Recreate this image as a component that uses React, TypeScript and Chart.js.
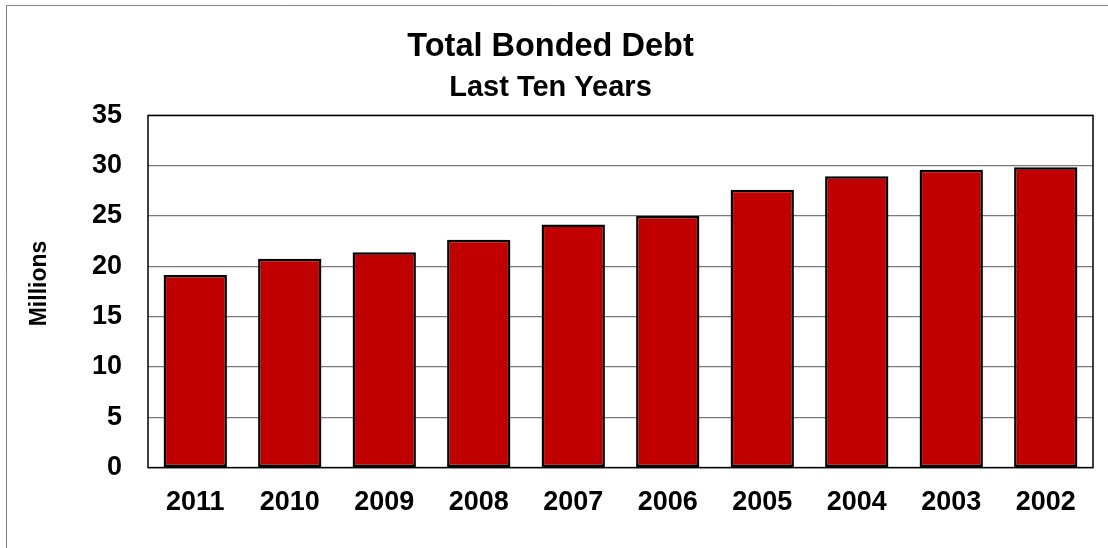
import React, { useEffect, useRef } from "react";
import { Chart, registerables } from "chart.js";

Chart.register(...registerables);

const categories = ["2011", "2010", "2009", "2008", "2007", "2006", "2005", "2004", "2003", "2002"];
const debtMillions = [19.15, 20.75, 21.4, 22.65, 24.15, 25.0, 27.6, 28.95, 29.6, 29.85];
const titleText = "Total Bonded Debt";
const subtitleText = "Last Ten Years";
const yAxisTitle = "Millions";

const FONT = "'Liberation Sans', Arial, Helvetica, sans-serif";

const framePlugin = {
  id: "framePlugin",
  beforeDraw(chart: any) {
    const ctx = chart.ctx;
    ctx.save();
    ctx.fillStyle = "#ffffff";
    ctx.fillRect(0, 0, chart.width, chart.height);
    ctx.strokeStyle = "#7f7f7f";
    ctx.lineWidth = 1;
    ctx.beginPath();
    ctx.moveTo(6.5, chart.height + 2);
    ctx.lineTo(6.5, 5.5);
    ctx.lineTo(chart.width + 2, 5.5);
    ctx.stroke();
    ctx.restore();
  },
  beforeDatasetsDraw(chart: any) {
    const { ctx, chartArea } = chart;
    ctx.save();
    ctx.strokeStyle = "#000000";
    ctx.lineWidth = 1.5;
    ctx.strokeRect(chartArea.left, chartArea.top, chartArea.right - chartArea.left, chartArea.bottom - chartArea.top);
    ctx.restore();
  },
  afterDraw(chart: any) {
    const { ctx, chartArea } = chart;
    ctx.save();
    ctx.translate(40, (chartArea.top + chartArea.bottom) / 2 - 8);
    ctx.rotate(-Math.PI / 2);
    ctx.fillStyle = "#000000";
    ctx.font = `bold 23px ${FONT}`;
    ctx.textAlign = "center";
    ctx.textBaseline = "middle";
    ctx.fillText(yAxisTitle, 0, 0);
    ctx.restore();
  },
};

export default function App() {
  const canvasRef = useRef<HTMLCanvasElement | null>(null);

  useEffect(() => {
    if (!canvasRef.current) return;
    const chart = new Chart(canvasRef.current, {
      type: "bar",
      data: {
        labels: categories,
        datasets: [
          {
            label: "Total Bonded Debt",
            data: debtMillions,
            backgroundColor: "#C00000",
            borderColor: "#000000",
            borderWidth: 2.5,
            borderSkipped: false,
            categoryPercentage: 1,
            barPercentage: 0.67,
          },
        ],
      },
      options: {
        animation: false,
        responsive: true,
        maintainAspectRatio: false,
        layout: { padding: { left: 8, right: 15, top: 0, bottom: 10 } },
        plugins: {
          legend: { display: false },
          tooltip: { enabled: false },
          title: {
            display: true,
            text: titleText,
            color: "#000000",
            font: { family: FONT, size: 32.5, weight: "bold", lineHeight: 1.2 },
            padding: { top: 28, bottom: 3.6 },
          },
          subtitle: {
            display: true,
            text: subtitleText,
            color: "#000000",
            font: { family: FONT, size: 29, weight: "bold", lineHeight: 1.2 },
            padding: { top: 0, bottom: 10 },
          },
        },
        scales: {
          x: {
            grid: { display: false, drawTicks: false },
            border: { display: false },
            ticks: {
              color: "#000000",
              font: { family: FONT, size: 27, weight: "bold", lineHeight: 1.2 },
              padding: 19,
              maxRotation: 0,
              autoSkip: false,
            },
          },
          y: {
            min: 0,
            max: 35,
            afterFit: (scale: any) => {
              scale.width = 140;
            },
            grid: {
              color: "#7a7a7a",
              lineWidth: 1.2,
              drawTicks: false,
            },
            border: { display: false },
            ticks: {
              stepSize: 5,
              color: "#000000",
              font: { family: FONT, size: 27, weight: "bold", lineHeight: 1.2 },
              padding: 26,
            },
            title: { display: false },
          },
        },
      },
      plugins: [framePlugin],
    });
    return () => chart.destroy();
  }, []);

  return (
    <div style={{ position: "absolute", left: 0, top: 0, width: 1108, height: 548, background: "#ffffff" }}>
      <canvas ref={canvasRef} />
    </div>
  );
}
